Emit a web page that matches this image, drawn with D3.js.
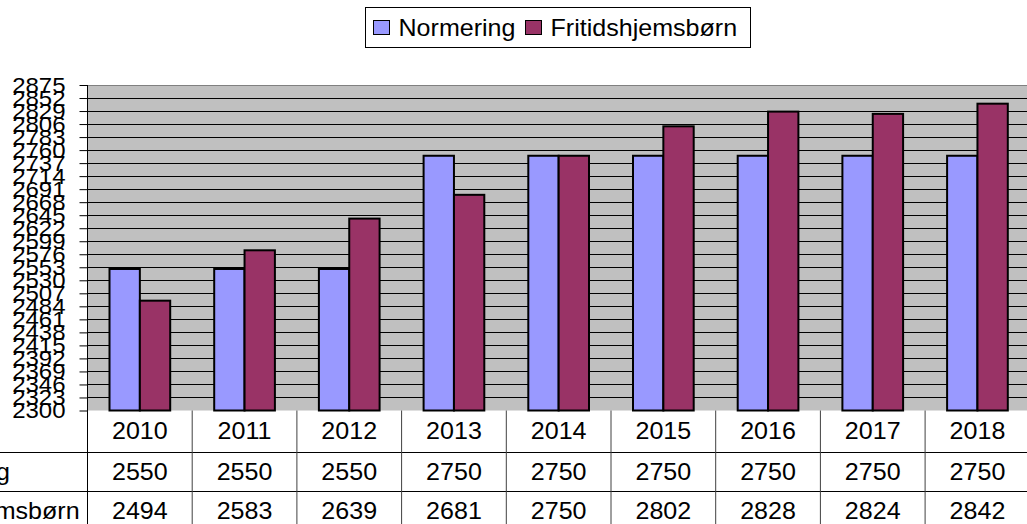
<!DOCTYPE html>
<html>
<head>
<meta charset="utf-8">
<script src="https://cdn.jsdelivr.net/npm/d3@7"></script>
<style>
  body { margin: 0; background: #fff; }
  svg { display: block; font-family: "Liberation Sans", Arial, sans-serif; }
</style>
</head>
<body>
<div id="chart"></div>
<script>
// data
var years = ["2010", "2011", "2012", "2013", "2014", "2015", "2016", "2017", "2018"];
var seriesNames = ["Normering", "Fritidshjemsbørn"];
var normering = [2550, 2550, 2550, 2750, 2750, 2750, 2750, 2750, 2750];
var fritid = [2494, 2583, 2639, 2681, 2750, 2802, 2828, 2824, 2842];
var yTicks = [2300, 2323, 2346, 2369, 2392, 2415, 2438, 2461, 2484, 2507, 2530, 2553,
              2576, 2599, 2622, 2645, 2668, 2691, 2714, 2737, 2760, 2783, 2806, 2829, 2852, 2875];
var colors = ["#9999FF", "#993366"];

var width = 1027, height = 524;
var plotLeft = 87.5, plotTop = 85, plotBottom = 410.5, band = 104.7;
var stretch = 1.09; // the reference text is a little wider than Arial

var svg = d3.select("#chart").append("svg")
  .attr("width", width)
  .attr("height", height);

// text helper, stretched horizontally
function addText(parent, x, y, str, size, anchor) {
  return parent.append("text")
    .attr("transform", "translate(" + x + "," + y + ") scale(" + stretch + ",1)")
    .attr("dy", "0.36em")
    .attr("text-anchor", anchor || "start")
    .style("font-size", size + "px")
    .style("fill", "#000")
    .text(str);
}

// scales
var x = d3.scaleBand()
  .domain(years)
  .range([plotLeft, plotLeft + band * years.length]);

var xs = d3.scaleBand()
  .domain(seriesNames)
  .range([22, x.bandwidth() - 22]);

var y = d3.scaleLinear()
  .domain([2300, 2875])
  .range([plotBottom, plotTop]);

// plot background
svg.append("rect")
  .attr("x", plotLeft)
  .attr("y", plotTop)
  .attr("width", x.range()[1] - plotLeft)
  .attr("height", plotBottom - plotTop)
  .style("fill", "#C0C0C0");

// gridlines
svg.append("g")
  .selectAll("line")
  .data(yTicks.slice(1, -1))
  .enter()
  .append("line")
    .attr("x1", plotLeft)
    .attr("x2", x.range()[1])
    .attr("y1", function(d) { return Math.round(y(d)) + 0.5; })
    .attr("y2", function(d) { return Math.round(y(d)) + 0.5; })
    .style("stroke", "#000")
    .style("stroke-width", 1.2);

// top border
svg.append("line")
  .attr("x1", plotLeft).attr("x2", x.range()[1])
  .attr("y1", plotTop + 0.5).attr("y2", plotTop + 0.5)
  .style("stroke", "#808080");

// bars
var data = years.map(function(yr, i) {
  return { year: yr, values: [
    { name: seriesNames[0], value: normering[i] },
    { name: seriesNames[1], value: fritid[i] }
  ]};
});

var groups = svg.selectAll(".grp")
  .data(data)
  .enter()
  .append("g")
    .attr("class", "grp")
    .attr("transform", function(d) { return "translate(" + x(d.year) + ",0)"; });

groups.selectAll("rect")
  .data(function(d) { return d.values; })
  .enter()
  .append("rect")
    .attr("x", function(d) { return xs(d.name); })
    .attr("y", function(d) { return y(d.value); })
    .attr("width", xs.bandwidth())
    .attr("height", function(d) { return plotBottom - y(d.value); })
    .style("fill", function(d, i) { return colors[i]; })
    .style("stroke", "#000")
    .style("stroke-width", 2);

// y axis (ticks from d3, labels stretched like the reference)
var yAxis = svg.append("g")
  .attr("transform", "translate(" + plotLeft + ",0)")
  .call(d3.axisLeft(y).tickValues(yTicks).tickSize(8).tickFormat(""));
yAxis.select(".domain").remove();
yAxis.selectAll("line").style("stroke", "#000");

var yLabels = svg.append("g");
yTicks.forEach(function(t) {
  addText(yLabels, 65.5, y(t), d3.format("d")(t), 22, "end");
});

// axis line through table
svg.append("line")
  .attr("x1", plotLeft).attr("x2", plotLeft)
  .attr("y1", plotTop).attr("y2", height)
  .style("stroke", "#000");

// data table
var rowLines = [452.5, 491.5];
var rowCenters = [431, 472, 511];
var table = svg.append("g");

table.selectAll(".hline")
  .data(rowLines)
  .enter()
  .append("line")
    .attr("x1", 0).attr("x2", x.range()[1])
    .attr("y1", function(d) { return d; })
    .attr("y2", function(d) { return d; })
    .style("stroke", "#000");

table.selectAll(".vline")
  .data(years.slice(1))
  .enter()
  .append("line")
    .attr("x1", function(d) { return x(d); })
    .attr("x2", function(d) { return x(d); })
    .attr("y1", plotBottom).attr("y2", height)
    .style("stroke", "#404040");

var rows = [years, normering, fritid];
rows.forEach(function(row, r) {
  row.forEach(function(v, i) {
    addText(table, x(years[i]) + x.bandwidth() / 2, rowCenters[r], v, 23, "middle");
  });
});

seriesNames.forEach(function(name, i) {
  addText(table, -107, rowCenters[i + 1], name, 23, "start");
});

// legend
var legend = svg.append("g");
legend.append("rect")
  .attr("x", 365.5).attr("y", 7.5)
  .attr("width", 385).attr("height", 40)
  .style("fill", "#fff")
  .style("stroke", "#000");

var legendX = [373.5, 525.5];
seriesNames.forEach(function(name, i) {
  legend.append("rect")
    .attr("x", legendX[i]).attr("y", 20.5)
    .attr("width", 16).attr("height", 14)
    .style("fill", colors[i])
    .style("stroke", "#000");
  addText(legend, legendX[i] + 25, 28, name, 23, "start");
});
</script>
</body>
</html>
